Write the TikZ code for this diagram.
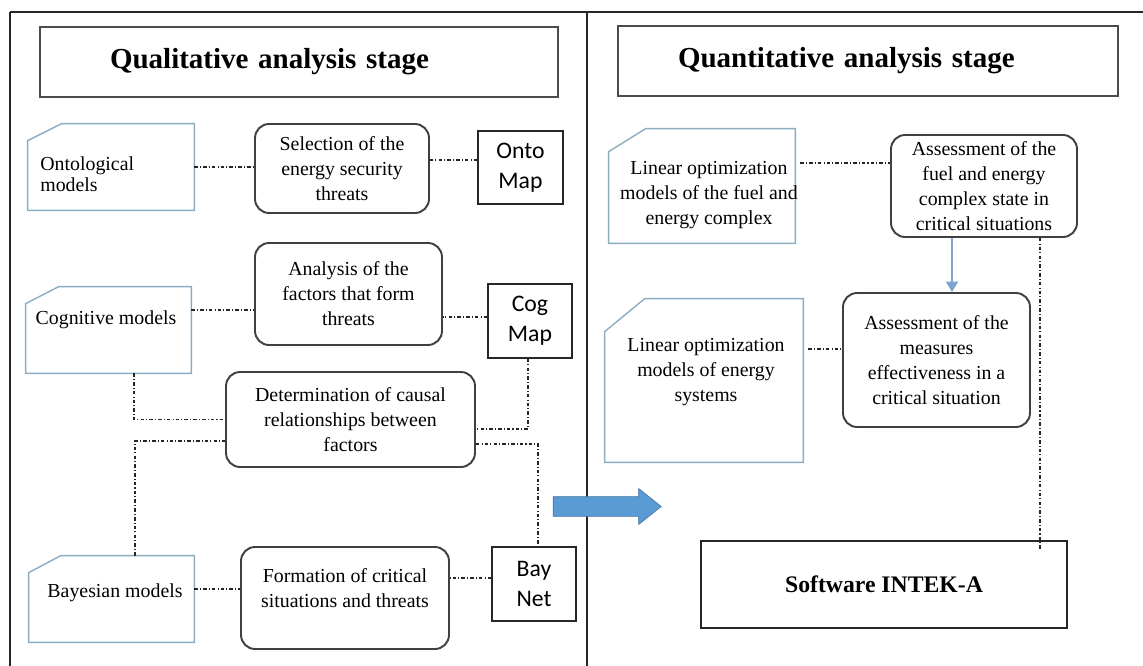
\documentclass[tikz,border=0pt]{standalone}
\usepackage{fontspec}
\setmainfont{Liberation Serif}
\newfontfamily\mapfont{Carlito}
\usetikzlibrary{arrows.meta,calc,shapes.arrows}

\definecolor{modelc}{RGB}{140,172,192}
\definecolor{bigblue}{RGB}{91,155,213}
\definecolor{thinblue}{RGB}{125,165,205}

\newcommand{\bodyfont}{\fontsize{11.3}{14.2}\selectfont}
% outline with the cut top-left corner: #1 node, #2 cut along x, #3 cut along y
\newcommand{\modelframe}[3]{\draw[modelline]($(#1.north west)+(0cm,-#3cm)$)--($(#1.north west)+(#2cm,0cm)$)--(#1.north east)--(#1.south east)--(#1.south west)--cycle;}

\tikzset{
  stageline/.style={line width=1.1pt,black!85},
  titlebox/.style={draw=black!70,line width=1pt,align=left,inner xsep=1.4cm,text width=7.56cm,minimum height=1.4cm,font=\fontsize{16.5}{20}\selectfont\bfseries},
  stepbox/.style={draw=black!75,line width=1.1pt,rounded corners=8pt,align=center,inner sep=0pt},
  mapbox/.style={draw=black!85,line width=.9pt,align=center,inner sep=0pt,font=\mapfont\fontsize{13.5}{17}\selectfont},
  modelbox/.style={inner sep=0pt},
  modeltext/.style={align=left,inner sep=0pt},
  modelline/.style={draw=modelc,line width=.8pt},
  link/.style={black!85,line width=.6pt,dash pattern=on 2pt off 1.2pt on .6pt off 1.2pt},
  downarrow/.style={thinblue,line width=.9pt,-{Triangle[length=6pt,width=7pt]}},
  bigarrow/.style={single arrow,fill=bigblue,draw=bigblue!75!black,line width=.4pt,inner xsep=0pt,inner ysep=.19cm,minimum height=2.16cm,single arrow head extend=.16cm,single arrow tip angle=77}
}

\begin{document}
\begin{tikzpicture}[x=0.02cm,y=-0.02cm,font=\bodyfont]
\useasboundingbox (0,0) rectangle (1143,666);
% stages
\draw[stageline] (10,12) -- (1143,12) (10,12) -- (10,666) (587,12) -- (587,666);
\node[titlebox] (qual) at (299,62) {Qualitative analysis stage};
\node[titlebox,inner xsep=1.2cm,text width=7.6cm] (quant) at (868,61) {Quantitative analysis stage};

% qualitative: models
\node[modelbox,minimum width=3.32cm,minimum height=1.72cm] (onto) at (111,167) {};
\modelframe{onto}{.68}{.34}
\node[modeltext,anchor=west] (ontot) at (40,174) {Ontological\\[-2pt]models};
\node[modelbox,minimum width=3.3cm,minimum height=1.72cm] (cog) at (108.5,330) {};
\modelframe{cog}{.66}{.34}
\node[modeltext] (cogt) at (106,320) {Cognitive models};
\node[modelbox,minimum width=3.3cm,minimum height=1.72cm] (bayes) at (111.5,599) {};
\modelframe{bayes}{.64}{.34}
\node[modeltext] (bayest) at (115,593) {Bayesian models};

% qualitative: steps
\node[stepbox,minimum width=3.48cm,minimum height=1.78cm] (sel) at (342,168.5) {Selection of the\\energy security\\threats};
\node[stepbox,minimum width=3.74cm,minimum height=2.04cm] (ana) at (348.5,294) {Analysis of the\\factors that form\\threats};
\node[stepbox,minimum width=4.98cm,minimum height=1.9cm] (det) at (350.5,419.5) {Determination of causal\\relationships between\\factors};
\node[stepbox,minimum width=4.16cm,minimum height=2.04cm] (form) at (345,598) {Formation of critical\\situations and threats\\[-3pt]};

% qualitative: maps
\node[mapbox,minimum width=1.7cm,minimum height=1.46cm] (ontomap) at (520.5,167.5) {Onto\\Map};
\node[mapbox,minimum width=1.68cm,minimum height=1.48cm] (cogmap) at (530,321) {Cog\\Map};
\node[mapbox,minimum width=1.68cm,minimum height=1.48cm] (baynet) at (534,584) {Bay\\Net};

\draw[link] (onto.east) -- (onto.east -| sel.west);
\draw[link] ([yshift=.15cm]ontomap.west) -- ([yshift=.15cm]ontomap.west -| sel.east);
\draw[link] ([yshift=.4cm]cog.east) -- ([yshift=.4cm]cog.east -| ana.west);
\draw[link] ([yshift=.08cm]cogmap.west) -- ([yshift=.08cm]cogmap.west -| ana.east);
\draw[link] ([xshift=-.04cm]cogmap.south) |- ([yshift=-.19cm]det.east);
\draw[link] ([yshift=-.49cm]det.east) -| ([xshift=.08cm]baynet.north);
\draw[link] ([xshift=.51cm]cog.south) |- (det.west);
\draw[link] ([xshift=.47cm]bayes.north) |- ([yshift=-.43cm]det.west);
\draw[link] ([yshift=.2cm]bayes.east) -- ([yshift=.2cm]bayes.east -| form.west);
\draw[link] ([yshift=.12cm]baynet.west) -- ([yshift=.12cm]baynet.west -| form.east);

\node[bigarrow] (push) at (601,506.5) {};

% quantitative
\node[modelbox,minimum width=3.72cm,minimum height=2.28cm] (lin1) at (702,186) {};
\modelframe{lin1}{.74}{.46}
\node[modeltext,align=center] (lin1t) at (709,195) {Linear optimization\\models of the fuel and\\energy complex};
\node[modelbox,minimum width=3.96cm,minimum height=3.26cm] (lin2) at (704,380.5) {};
\modelframe{lin2}{.8}{.66}
\node[modeltext,align=center] (lin2t) at (706,372) {Linear optimization\\models of energy\\systems};

\node[stepbox,minimum width=3.72cm,minimum height=2.04cm] (ass1) at (984,186) {Assessment of the\\fuel and energy\\complex state in\\critical situations};
\node[stepbox,minimum width=3.74cm,minimum height=2.68cm] (ass2) at (936.5,360) {Assessment of the\\measures\\effectiveness in a\\critical situation};
\node[draw=black!85,line width=1pt,minimum width=7.32cm,minimum height=1.74cm,font=\fontsize{13.5}{16}\selectfont\bfseries] (soft) at (884,584.5) {Software INTEK-A};

\draw[link] ([xshift=.1cm,yshift=.46cm]lin1.east) -- ([yshift=.46cm]lin1.east -| ass1.west);
\draw[link] ([xshift=.1cm,yshift=.63cm]lin2.east) -- ([yshift=.63cm]lin2.east -| ass2.west);
\draw[downarrow] ([xshift=-.64cm]ass1.south) -- ([xshift=-.64cm]ass1.south |- ass2.north);
\draw[link] ([xshift=1.12cm]ass1.south) -- ([xshift=1.12cm]ass1.south |- soft.north) -- ++(0,9);
\end{tikzpicture}
\end{document}
